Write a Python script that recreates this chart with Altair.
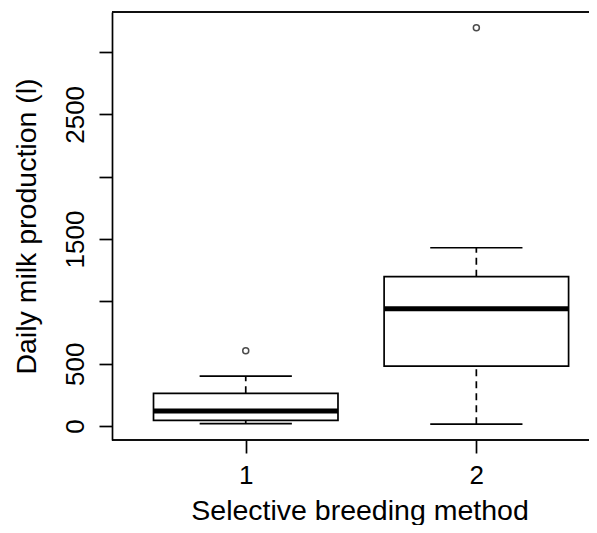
import altair as alt
import pandas as pd

# Box statistics (R boxplot)
groups = [1, 2]
lower_whisker = [19, 15]
q1 = [45, 481]
median = [120, 941]
q3 = [262, 1198]
upper_whisker = [401, 1430]
outlier_group = [1, 2]
outlier_value = [604, 3195]

x_ticks = [1, 2]
y_ticks = [0, 500, 1000, 1500, 2000, 2500, 3000]
y_labeled = [0, 500, 1500, 2500]

box_df = pd.DataFrame(dict(group=groups, lo=lower_whisker, q1=q1, med=median,
                           q3=q3, hi=upper_whisker))
out_df = pd.DataFrame(dict(group=outlier_group, value=outlier_value))

FONT = "Liberation Sans"
LFS = 26
TFS = 28.5
W, H = 477, 428
LW = 1.7

xscale = alt.Scale(domain=[0.42, 0.42 + W / 230.6], nice=False, zero=False)
yscale = alt.Scale(domain=[-112, 3321], nice=False, zero=False)

xaxis = alt.Axis(values=x_ticks, format="d", title="Selective breeding method",
                 grid=False, domain=False, tickSize=13, tickWidth=LW, tickColor="black",
                 labelFont=FONT, labelFontSize=LFS, labelColor="black", labelPadding=30,
                 labelBaseline="alphabetic", labelFlush=False, labelOverlap=False,
                 titleFont=FONT, titleFontSize=TFS, titleFontWeight="normal",
                 titleColor="black", titleX=247.5, titleY=79, titleAlign="center",
                 titleBaseline="alphabetic")

yaxis = alt.Axis(values=y_ticks, format="d", title="Daily milk production (l)",
                 labelExpr=f"indexof({y_labeled}, datum.value) >= 0 ? datum.label : ''",
                 grid=False, domain=True, domainColor="black", domainWidth=LW,
                 tickSize=13, tickWidth=LW, tickColor="black",
                 labelFont=FONT, labelFontSize=LFS, labelColor="black", labelPadding=16,
                 labelAngle=270, labelAlign="center", labelBaseline="alphabetic",
                 labelFlush=False, labelOverlap=False,
                 titleFont=FONT, titleFontSize=TFS, titleFontWeight="normal",
                 titleColor="black", titleX=-77, titleY=H / 2, titleAngle=270,
                 titleAlign="center", titleBaseline="alphabetic")


def X(f):
    return alt.X(f, type="quantitative", scale=xscale, axis=xaxis)


def Y(f):
    return alt.Y(f, type="quantitative", scale=yscale, axis=yaxis)


base = alt.Chart(box_df).transform_calculate(
    xl="datum.group - 0.4", xr="datum.group + 0.4",
    cl="datum.group - 0.2", cr="datum.group + 0.2")

box = base.mark_rect(fill="white", stroke="black", strokeWidth=LW).encode(
    x=X("xl"), x2="xr:Q", y=Y("q1"), y2="q3:Q")
med = base.mark_rule(color="black", strokeWidth=5, strokeCap="butt").encode(
    x=X("xl"), x2="xr:Q", y=Y("med"))
wh_up = base.mark_rule(color="black", strokeWidth=LW, strokeDash=[7, 5]).encode(
    x=X("group"), y=Y("q3"), y2="hi:Q")
wh_lo = base.mark_rule(color="black", strokeWidth=LW, strokeDash=[7, 5]).encode(
    x=X("group"), y=Y("lo"), y2="q1:Q")
cap_up = base.mark_rule(color="black", strokeWidth=LW).encode(
    x=X("cl"), x2="cr:Q", y=Y("hi"))
cap_lo = base.mark_rule(color="black", strokeWidth=LW).encode(
    x=X("cl"), x2="cr:Q", y=Y("lo"))
outl = alt.Chart(out_df).mark_point(shape="circle", filled=False, size=36,
                                    stroke="black", strokeWidth=1.5).encode(
    x=X("group"), y=Y("value"))

# plot frame: top and bottom edges run off the right side, as in the reference
frame_top = alt.Chart(out_df).mark_rule(color="black", strokeWidth=LW).encode(
    x=alt.value(0), x2=alt.value(W), y=alt.value(0))
frame_bot = alt.Chart(out_df).mark_rule(color="black", strokeWidth=LW).encode(
    x=alt.value(0), x2=alt.value(W), y=alt.value(H))

chart = alt.layer(wh_up, wh_lo, cap_up, cap_lo, box, med, outl,
                  frame_top, frame_bot).properties(
    width=W, height=H, autosize="none",
    padding={"left": 104, "top": 4, "right": 0, "bottom": 85},
    background="white",
).configure_view(stroke=None)

chart.save("out.html", embed_options={"renderer": "svg", "actions": False})
